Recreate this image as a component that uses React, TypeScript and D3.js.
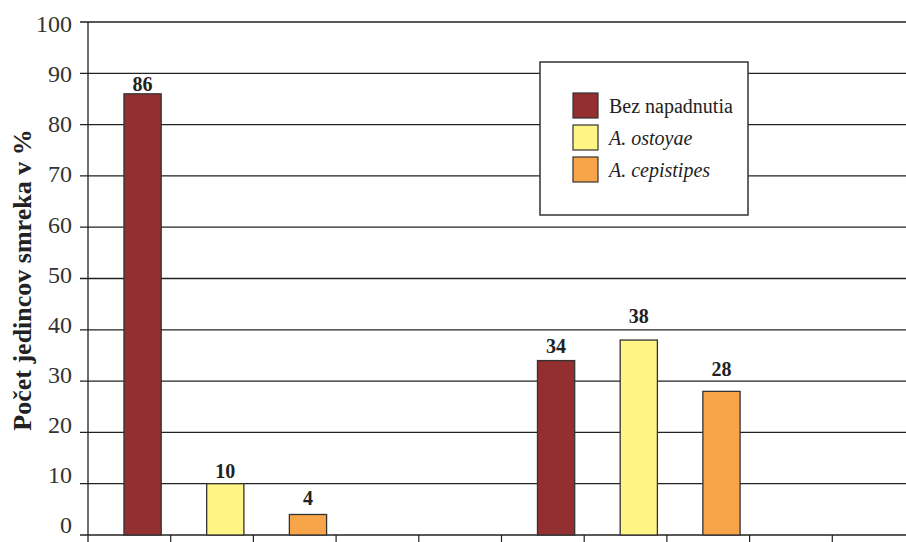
import React, { useRef, useEffect } from "react";
import * as d3 from "d3";

// Data
const categories = ["1", "2", "3", "4", "5", "6", "7", "8", "9", "10"];
const values = [86, 10, 4, null, null, 34, 38, 28, null, null];
const barSeries = [0, 1, 2, null, null, 0, 1, 2, null, null];
const seriesNames = ["Bez napadnutia", "A. ostoyae", "A. cepistipes"];
const seriesItalic = [false, true, true];
const seriesColors = ["#942f30", "#fff585", "#f8a549"];
const yTicks = [0, 10, 20, 30, 40, 50, 60, 70, 80, 90, 100];
const yTitle = "Počet jedincov smreka v %";

// gap (px) between bar top and its value label, as in the original
const labelLift = [3, 6, 9, 0, 0, 8, 17, 15, 0, 0];

const width = 906;
const height = 542;
const margin = { left: 88, top: 22, bottom: 7 };

export default function App() {
  const svgRef = useRef(null);

  useEffect(() => {
    const svg = d3.select(svgRef.current);
    svg.selectAll("*").remove();

    const x = d3
      .scaleBand()
      .domain(categories)
      .range([margin.left, margin.left + 82.7 * categories.length]);
    const y = d3
      .scaleLinear()
      .domain([0, 100])
      .range([height - margin.bottom, margin.top]);
    // tick labels are spaced a little tighter than the gridlines
    const yLabel = d3
      .scaleLinear()
      .domain([0, 100])
      .range([height - margin.bottom - 10, margin.top + 1.5]);
    const bw = x.bandwidth();
    const serif = "'Liberation Serif', 'Times New Roman', serif";

    // gridlines + y tick labels
    svg
      .append("g")
      .selectAll("line")
      .data(yTicks)
      .join("line")
      .attr("x1", margin.left - 8)
      .attr("x2", width)
      .attr("y1", (d) => y(d))
      .attr("y2", (d) => y(d))
      .attr("stroke", "#222")
      .attr("stroke-width", 1.3);

    svg
      .append("g")
      .selectAll("text")
      .data(yTicks)
      .join("text")
      .attr("x", 72)
      .attr("y", (d) => yLabel(d))
      .attr("dy", "0.35em")
      .attr("text-anchor", "end")
      .style("font-family", serif)
      .style("font-size", "24px")
      .attr("fill", "#333")
      .text((d) => d);

    // left axis line
    svg
      .append("line")
      .attr("x1", margin.left)
      .attr("x2", margin.left)
      .attr("y1", y(100))
      .attr("y2", height)
      .attr("stroke", "#222")
      .attr("stroke-width", 1.3);

    // bottom category ticks
    svg
      .append("g")
      .selectAll("line")
      .data(categories.slice(1))
      .join("line")
      .attr("x1", (d) => x(d))
      .attr("x2", (d) => x(d))
      .attr("y1", y(0))
      .attr("y2", height)
      .attr("stroke", "#222")
      .attr("stroke-width", 1.2);

    // bars
    const bars = categories
      .map((c, i) => ({ c, v: values[i], s: barSeries[i], lift: labelLift[i] }))
      .filter((d) => d.v !== null);

    svg
      .append("g")
      .selectAll("rect")
      .data(bars)
      .join("rect")
      .attr("x", (d) => x(d.c) + bw * 0.435)
      .attr("width", bw * 0.45)
      .attr("y", (d) => y(d.v))
      .attr("height", (d) => y(0) - y(d.v))
      .attr("fill", (d) => seriesColors[d.s])
      .attr("stroke", "#333")
      .attr("stroke-width", 1.3);

    svg
      .append("g")
      .selectAll("text")
      .data(bars)
      .join("text")
      .attr("x", (d) => x(d.c) + bw * 0.66)
      .attr("y", (d) => y(d.v) - d.lift)
      .attr("text-anchor", "middle")
      .style("font-family", serif)
      .style("font-weight", "bold")
      .style("font-size", "20px")
      .attr("fill", "#222")
      .text((d) => d.v);

    // y title
    svg
      .append("text")
      .attr("transform", `translate(31,280) rotate(-90)`)
      .attr("text-anchor", "middle")
      .style("font-family", serif)
      .style("font-weight", "bold")
      .style("font-size", "26px")
      .attr("fill", "#222")
      .text(yTitle);

    // legend
    const legend = svg.append("g").attr("transform", "translate(540,62)");
    legend
      .append("rect")
      .attr("width", 208)
      .attr("height", 153)
      .attr("fill", "#fff")
      .attr("stroke", "#333")
      .attr("stroke-width", 1.5);
    const items = legend
      .selectAll("g")
      .data(seriesNames)
      .join("g")
      .attr("transform", (d, i) => `translate(33,${31 + i * 32})`);
    items
      .append("rect")
      .attr("width", 25)
      .attr("height", 25)
      .attr("fill", (d, i) => seriesColors[i])
      .attr("stroke", "#333")
      .attr("stroke-width", 1.2);
    items
      .append("text")
      .attr("x", 36)
      .attr("y", 13)
      .attr("dy", "0.35em")
      .style("font-family", serif)
      .style("font-size", "20px")
      .style("font-style", (d, i) => (seriesItalic[i] ? "italic" : "normal"))
      .attr("fill", "#222")
      .text((d) => d);
  }, []);

  return (
    <div style={{ position: "fixed", left: 0, top: 0 }}>
      <svg ref={svgRef} width={width} height={height} style={{ display: "block", background: "#fff" }}></svg>
    </div>
  );
}
